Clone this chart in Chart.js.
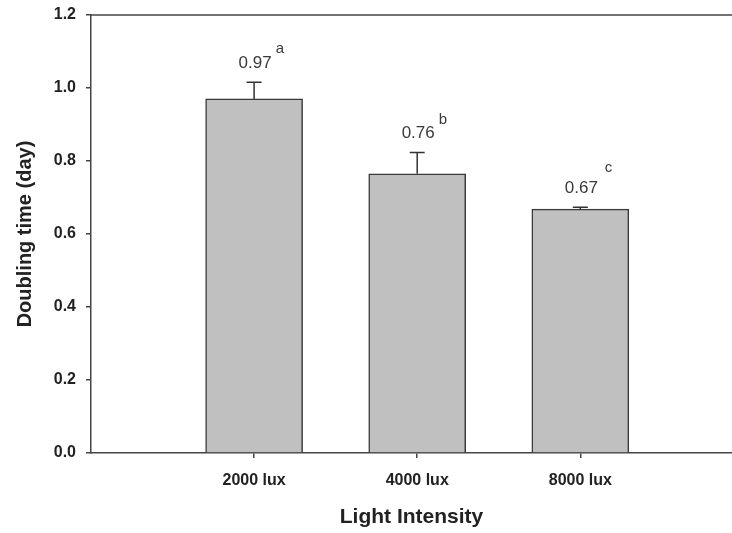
<!DOCTYPE html>
<html>
<head>
<meta charset="utf-8">
<script src="https://cdn.jsdelivr.net/npm/chart.js@4.4.1/dist/chart.umd.min.js"></script>
<style>
html,body{margin:0;padding:0;background:#fff;}
#wrap{width:732px;height:533px;position:relative;}
</style>
</head>
<body>
<div id="wrap"><canvas id="c" width="732" height="533"></canvas></div>
<script>
const categories = ['2000 lux', '4000 lux', '8000 lux'];
const positions = [1, 2, 3];
const meanValues = [0.97, 0.765, 0.668];
const errorValues = [0.046, 0.058, 0.005];
const valueLabels = ['0.97', '0.76', '0.67'];
const letters = ['a', 'b', 'c'];
const yTicks = [0, 0.2, 0.4, 0.6, 0.8, 1.0, 1.2];

const ink = '#222';
const FONT = '"Liberation Sans", Arial, sans-serif';

const overlay = {
  id: 'overlay',
  afterDatasetsDraw(chart) {
    const ctx = chart.ctx;
    const ys = chart.scales.y;
    const meta = chart.getDatasetMeta(0);
    const area = chart.chartArea;
    ctx.save();
    ctx.strokeStyle = '#444';
    ctx.lineWidth = 1.5;
    ctx.beginPath();
    ctx.moveTo(area.left, area.top);
    ctx.lineTo(chart.width, area.top);
    ctx.stroke();
    meta.data.forEach((bar, i) => {
      const x = bar.x;
      const yTop = ys.getPixelForValue(meanValues[i]);
      const yCap = ys.getPixelForValue(meanValues[i] + errorValues[i]);
      ctx.strokeStyle = '#333';
      ctx.lineWidth = 1.5;
      ctx.beginPath();
      ctx.moveTo(x, yTop);
      ctx.lineTo(x, yCap);
      ctx.moveTo(x - 7.5, yCap);
      ctx.lineTo(x + 7.5, yCap);
      ctx.stroke();
      ctx.fillStyle = '#3a3a3a';
      ctx.font = '17px ' + FONT;
      ctx.textAlign = 'center';
      ctx.textBaseline = 'middle';
      const ly = yCap - 19;
      ctx.fillText(valueLabels[i], x + 1, ly);
      const w = ctx.measureText(valueLabels[i]).width;
      ctx.font = '15px ' + FONT;
      ctx.textAlign = 'left';
      const sy = i === 2 ? ly - 20 : ly - 14;
      const gap = i === 2 ? 7 : 4;
      ctx.fillText(letters[i], x + 1 + w / 2 + gap, sy);
    });
    ctx.restore();
  }
};

new Chart(document.getElementById('c'), {
  type: 'bar',
  data: {
    datasets: [{
      data: positions.map((p, i) => ({ x: p, y: meanValues[i] })),
      backgroundColor: '#c0c0c0',
      borderColor: '#3a3a3a',
      borderWidth: 1.5,
      borderSkipped: 'bottom',
      barThickness: 97
    }]
  },
  options: {
    responsive: false,
    animation: false,
    events: [],
    layout: { padding: { top: 15, right: 0, left: 0, bottom: 0 } },
    plugins: { legend: { display: false }, tooltip: { enabled: false } },
    scales: {
      x: {
        type: 'linear',
        offset: false,
        min: 0,
        max: 3.93,
        afterBuildTicks(s) { s.ticks = positions.map(v => ({ value: v })); },
        afterFit(s) { s.height = 80; s.paddingLeft = 0; s.paddingRight = 0; },
        ticks: {
          callback(v) { const i = positions.indexOf(v); return i >= 0 ? categories[i] : ''; },
          color: ink,
          font: { family: FONT, size: 16, weight: 'bold' },
          padding: 13,
          maxRotation: 0,
          autoSkip: false
        },
        grid: { display: true, offset: false, drawOnChartArea: false, drawTicks: true, tickLength: 5, color: '#444', lineWidth: 1.5 },
        border: { display: true, color: '#444', width: 1.5 },
        title: {
          display: true,
          text: 'Light Intensity',
          color: ink,
          font: { family: FONT, size: 21, weight: 'bold' },
          padding: { top: 0, bottom: 3 }
        }
      },
      y: {
        min: 0,
        max: 1.2,
        afterBuildTicks(s) { s.ticks = yTicks.map(v => ({ value: v })); },
        afterFit(s) { s.width = 91; s.paddingTop = 0; s.paddingBottom = 0; },
        ticks: {
          callback(v) { return v.toFixed(1); },
          color: ink,
          font: { family: FONT, size: 16, weight: 'bold' },
          padding: 10
        },
        grid: { display: true, drawOnChartArea: false, drawTicks: true, tickLength: 5, color: '#444', lineWidth: 1.5 },
        border: { display: true, color: '#444', width: 1.5 },
        title: {
          display: true,
          text: 'Doubling time (day)',
          color: ink,
          font: { family: FONT, size: 20, weight: 'bold' },
          padding: { top: 13, bottom: 0 }
        }
      }
    }
  },
  plugins: [overlay]
});
</script>
</body>
</html>
